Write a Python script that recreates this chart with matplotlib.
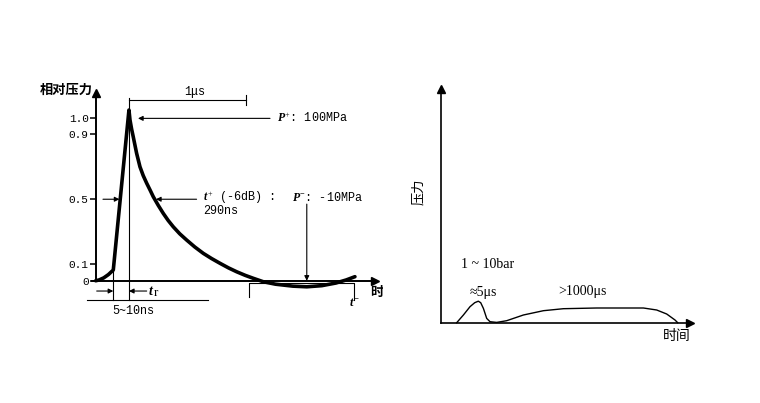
import numpy as np
import matplotlib
matplotlib.use("Agg")
import matplotlib.pyplot as plt

plt.rcParams['font.family'] = ['Liberation Mono', 'DejaVu Sans']
plt.rcParams['mathtext.fontset'] = 'custom'
plt.rcParams['mathtext.rm'] = 'Liberation Serif'
plt.rcParams['mathtext.it'] = 'Liberation Serif:italic:bold'

# 左图: 冲击波相对压力 (时间单位约为 μs)
t_izq = [0, 0.03, 0.07, 0.11, 0.152, 0.287, 0.296, 0.31, 0.324, 0.353, 0.382, 0.41,
         0.44, 0.47, 0.497, 0.54, 0.583, 0.625, 0.669, 0.725, 0.784, 0.855, 0.928,
         1.0, 1.072, 1.145, 1.216, 1.29, 1.359, 1.445, 1.55, 1.70, 1.82, 1.95,
         2.07, 2.16, 2.235]
p_izq = [0, 0.005, 0.018, 0.038, 0.066, 1.047, 0.986, 0.93, 0.883, 0.782, 0.699, 0.645,
         0.598, 0.555, 0.515, 0.462, 0.413, 0.37, 0.331, 0.288, 0.25, 0.207, 0.168,
         0.136, 0.107, 0.079, 0.055, 0.033, 0.015, -0.006, -0.021, -0.033, -0.037, -0.03,
         -0.014, 0.005, 0.025]
yticks_izq = [0, 0.1, 0.5, 0.9, 1.0]
yticklabels_izq = ["0", "0.1", "0.5", "0.9", "1.0"]

# 右图: 压力 - 时间 (示意)
t_der = [16, 22.7, 29.3, 34, 37.6, 40, 42.7, 46, 49.3, 56, 66, 82.7, 102.7,
         122.7, 156, 202.7, 216, 226, 234.3, 237]
p_der = [0, 7.7, 16, 20, 21.5, 20, 14.3, 4.3, 1, 0.3, 2, 7.7, 12,
         14, 14.7, 14.7, 12.7, 8.7, 2.7, 0]

W, H = 760, 403
fig = plt.figure(figsize=(7.6, 4.03), dpi=100)


def ejes(px0, px1, py0, py1, xlim, ylim):
    ax = fig.add_axes([px0 / W, (H - py1) / H, (px1 - px0) / W, (py1 - py0) / H])
    ax.set_xlim(xlim)
    ax.set_ylim(ylim)
    ax.patch.set_alpha(0)
    for s in ['top', 'right']:
        ax.spines[s].set_visible(False)
    ax.spines['left'].set_position(('data', 0))
    ax.spines['bottom'].set_position(('data', 0))
    return ax


flecha = dict(arrowstyle='-|>', lw=0.8, color='k', mutation_scale=7,
              shrinkA=0, shrinkB=0)

# ---------------- 左图 ----------------
ax1 = ejes(30, 383, 60, 330, (-0.566, 2.477), (-0.302, 1.354))
ax1.spines['left'].set_bounds(0, 1.14)
ax1.spines['bottom'].set_bounds(-0.035, 2.40)
ax1.spines['left'].set_linewidth(1.4)
ax1.spines['bottom'].set_linewidth(1.4)
ax1.plot([0], [1.15], marker='^', color='k', ms=6, clip_on=False)
ax1.plot([2.41], [0], marker='>', color='k', ms=6, clip_on=False)
ax1.set_xticks([])
ax1.set_yticks(yticks_izq)
ax1.set_yticklabels(yticklabels_izq, fontsize=8)
ax1.tick_params(axis='y', direction='out', length=4, width=1.1, pad=1)

ax1.plot(t_izq, p_izq, color='k', lw=2.6, solid_joinstyle='round', solid_capstyle='round')

ax1.text(-0.48, 1.17, "相对压力", fontsize=9.5, fontweight='bold', va='center',
         family=['Noto Sans CJK SC'])
ax1.text(2.365, -0.069, "时间", fontsize=9.5, fontweight='bold', va='center',
         family=['Noto Sans CJK SC'], clip_on=True)

# 1μs 标尺
pico = t_izq[5]
ax1.plot([pico, pico], [1.12, -0.118], color='k', lw=0.8)
ax1.plot([pico, 1.296], [1.109, 1.109], color='k', lw=0.8)
ax1.plot([1.296, 1.296], [1.078, 1.139], color='k', lw=0.8)
ax1.text(0.856, 1.16, "1μs", fontsize=8.5, ha='center', va='center')

# 上升时间 t_r
ax1.plot([t_izq[4], t_izq[4]], [p_izq[4], -0.118], color='k', lw=0.8)
ax1.plot([-0.078, 0.968], [-0.118, -0.118], color='k', lw=0.8)
ax1.annotate('', xy=(t_izq[4], -0.063), xytext=(0.009, -0.063), arrowprops=flecha)
ax1.annotate('', xy=(pico, -0.063), xytext=(0.44, -0.063), arrowprops=flecha)
ax1.text(0.455, -0.063, r"$t$", fontsize=10, va='center')
ax1.text(0.5, -0.072, "r", fontsize=9.5, va='center', family=['Liberation Serif'])
ax1.text(0.32, -0.184, "5~10ns", fontsize=8.5, ha='center', va='center')

# P+
ax1.annotate('', xy=(0.365, 0.996), xytext=(1.503, 0.996), arrowprops=flecha)
ax1.text(1.56, 0.996, r"$P^{+}$: 100MPa", fontsize=8.5, va='center')

# t+ (-6dB)
ax1.annotate('', xy=(0.205, 0.5), xytext=(0.063, 0.5), arrowprops=flecha)
ax1.annotate('', xy=(0.52, 0.5), xytext=(0.87, 0.5), arrowprops=flecha)
ax1.text(0.925, 0.51, r"$t^{+}$ (-6dB) :", fontsize=8.5, va='center')
ax1.text(0.925, 0.43, "290ns", fontsize=8.5, va='center')

# P-
ax1.text(1.69, 0.51, r"$P^{-}$: -10MPa", fontsize=8.5, va='center')
ax1.annotate('', xy=(1.82, 0.0), xytext=(1.82, 0.47), arrowprops=flecha)

# t- 区间
ax1.plot([1.324, 1.324, 2.227, 2.227], [-0.098, -0.012, -0.012, -0.118], color='k', lw=0.8)
ax1.text(2.227, -0.139, r"$t^{-}$", fontsize=9, ha='center', va='center')

# ---------------- 右图 ----------------
ax2 = ejes(400, 720, 60, 350, (-40.7, 279.3), (-27.3, 262.7))
ax2.spines['left'].set_bounds(0, 232)
ax2.spines['bottom'].set_bounds(0, 247)
ax2.spines['left'].set_linewidth(1.2)
ax2.spines['bottom'].set_linewidth(1.2)
ax2.plot([0], [234], marker='^', color='k', ms=6, clip_on=False)
ax2.plot([249], [0], marker='>', color='k', ms=6, clip_on=False)
ax2.set_xticks([])
ax2.set_yticks([])

ax2.plot(t_der, p_der, color='k', lw=1.0)

ax2.text(-22.4, 131, "压力", fontsize=9.5, rotation=90, ha='center', va='center',
         family=['Noto Sans CJK SC'])
ax2.text(236, -13, "时间", fontsize=10, ha='center', va='center',
         family=['Noto Sans CJK SC'])
ax2.text(20, 57.7, "1 ~ 10bar", fontsize=10, va='center',
         family=['Liberation Serif', 'DejaVu Serif'])
ax2.text(29.3, 30, "≈5μs", fontsize=10, va='center',
         family=['Liberation Serif', 'DejaVu Serif'])
ax2.text(117.6, 31, ">1000μs", fontsize=10, va='center',
         family=['Liberation Serif', 'DejaVu Serif'])

fig.savefig("out.png", dpi=100)
